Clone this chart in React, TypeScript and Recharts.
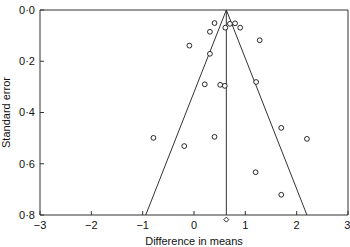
import React from "react";
import {
  ScatterChart,
  Scatter,
  XAxis,
  YAxis,
  ReferenceLine,
  ReferenceDot,
} from "recharts";

// study estimates: difference in means vs standard error
const studyDiff = [
  0.4, 0.31, 0.7, 0.8, 0.61, 0.9, -0.09, 1.28, 0.31, 0.21, 0.51, 0.6, 1.21,
  -0.79, -0.19, 0.4, 1.7, 2.2, 1.2, 1.7,
];
const studySE = [
  0.051, 0.085, 0.054, 0.052, 0.069, 0.069, 0.139, 0.118, 0.171, 0.29, 0.292,
  0.296, 0.281, 0.499, 0.531, 0.495, 0.46, 0.503, 0.633, 0.721,
];

const pooled = 0.63;
const pooledMarkerSE = 0.818;
const funnelX = [-0.94, 0.63, 2.2];
const funnelSE = [0.8, 0, 0.8];

const xTicks = [-3, -2, -1, 0, 1, 2, 3];
const yTicks = [0, 0.2, 0.4, 0.6, 0.8];

const points = studyDiff.map((d, i) => ({ x: d, y: studySE[i] }));
const funnel = funnelX.map((d, i) => ({ x: d, y: funnelSE[i] }));

const ink = "#333";
const font = "'Liberation Sans', Arial, sans-serif";

const fmtX = (v: number) => (v < 0 ? `\u2212${Math.abs(v)}` : String(v));
const fmtY = (v: number) => v.toFixed(1).replace(".", "\u00b7");

const OpenCircle = (props: any) => (
  <circle cx={props.cx} cy={props.cy} r={2.4} fill="#fff" stroke="#111" strokeWidth={0.9} />
);

const Diamond = (props: any) => {
  const { cx, cy } = props;
  return (
    <path
      d={`M${cx},${cy - 2.5}L${cx + 2.5},${cy}L${cx},${cy + 2.5}L${cx - 2.5},${cy}Z`}
      fill="#fff"
      stroke="#111"
      strokeWidth={0.9}
    />
  );
};

export default function App() {
  return (
    <div style={{ width: 350, height: 247, background: "#fff" }}>
      <style>{`body{margin:0}`}</style>
      <ScatterChart
        width={350}
        height={247}
        margin={{ top: 10, right: 2, left: 0, bottom: 0 }}
        style={{ fontFamily: font }}
      >
        <XAxis
          type="number"
          dataKey="x"
          domain={[-3, 3]}
          ticks={xTicks}
          tickFormatter={fmtX}
          height={32}
          tickSize={-4}
          tickMargin={10}
          stroke={ink}
          tick={{ fill: "#111", fontSize: 11 }}
          label={{
            value: "Difference in means",
            position: "insideBottom",
            offset: 2,
            fill: "#111",
            fontSize: 11,
          }}
        />
        <YAxis
          type="number"
          dataKey="y"
          reversed
          domain={[0, 0.8]}
          ticks={yTicks}
          tickFormatter={fmtY}
          width={40}
          tickSize={-4}
          tickMargin={9}
          stroke={ink}
          tick={{ fill: "#111", fontSize: 11 }}
          label={{
            value: "Standard error",
            angle: -90,
            position: "insideLeft",
            offset: 6,
            style: { textAnchor: "middle" },
            fill: "#111",
            fontSize: 11,
          }}
        />
        <ReferenceLine y={0} stroke={ink} />
        <ReferenceLine x={3} stroke={ink} />
        <ReferenceLine x={pooled} stroke={ink} />
        <Scatter
          data={funnel}
          line={{ stroke: ink, strokeWidth: 1 }}
          shape={() => null}
          isAnimationActive={false}
        />
        <Scatter data={points} shape={OpenCircle} isAnimationActive={false} />
        <ReferenceDot
          x={pooled}
          y={pooledMarkerSE}
          ifOverflow="visible"
          shape={Diamond}
        />
      </ScatterChart>
    </div>
  );
}
